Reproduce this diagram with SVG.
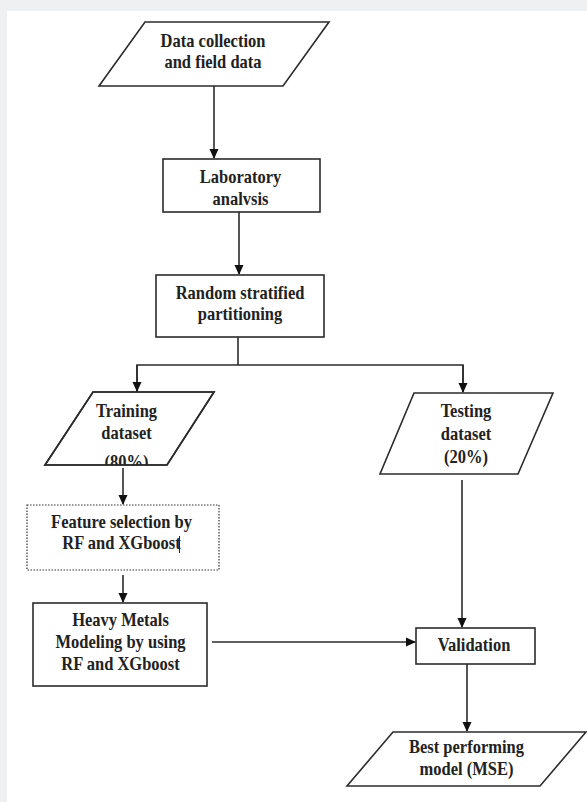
<svg xmlns="http://www.w3.org/2000/svg" width="587" height="802" viewBox="0 0 587 802">
<style>
.shape{fill:#fff;stroke:#2b2b2b;stroke-width:1.6}
.dot{fill:#fff;stroke:#333;stroke-width:1.2;stroke-dasharray:1.5 1.5}
.t{font-family:"Liberation Serif","Times New Roman",serif;font-weight:bold;font-size:16.5px;fill:#222;text-anchor:middle}
.c{fill:none;stroke:#2b2b2b;stroke-width:1.6}
</style>
<defs>
<marker id="ah" markerWidth="10" markerHeight="10" refX="9" refY="5" orient="auto" markerUnits="userSpaceOnUse">
<path d="M0,0.5 L10,5 L0,9.5 Z" fill="#111"/>
</marker>
<clipPath id="clipTrain"><polygon points="93,392 214,392 167,465 45,465"/></clipPath>
</defs>
<rect x="0" y="0" width="587" height="802" fill="#eef0f2"/>
<rect x="7" y="11" width="580" height="791" fill="#fff"/>

<g id="connectors">
<line class="c" x1="214" y1="86" x2="214" y2="158" marker-end="url(#ah)"/>
<line class="c" x1="239" y1="212" x2="239" y2="274" marker-end="url(#ah)"/>
<line class="c" x1="238" y1="337" x2="238" y2="365"/>
<polyline class="c" points="137,392 137,365 463,365 463,392"/>
<line class="c" x1="137" y1="365" x2="137" y2="391" marker-end="url(#ah)"/>
<line class="c" x1="463" y1="365" x2="463" y2="392" marker-end="url(#ah)"/>
<line class="c" x1="123" y1="468" x2="123" y2="504" marker-end="url(#ah)"/>
<line class="c" x1="123" y1="575" x2="123" y2="602" marker-end="url(#ah)"/>
<line class="c" x1="212" y1="642" x2="415" y2="642" marker-end="url(#ah)"/>
<line class="c" x1="462" y1="480" x2="462" y2="627" marker-end="url(#ah)"/>
<line class="c" x1="467" y1="664" x2="467" y2="731" marker-end="url(#ah)"/>
</g>

<g id="data-collection">
<polygon class="shape" points="145,22 329,22 283,86 99,86"/>
<text class="t" transform="translate(213,47) scale(1,1.2)">Data collection</text>
<text class="t" transform="translate(213,68) scale(1,1.2)">and field data</text>
</g>

<g id="laboratory">
<rect class="shape" x="163" y="159" width="157" height="53"/>
<text class="t" transform="translate(240.5,183) scale(1,1.2)">Laboratory</text>
<text class="t" transform="translate(240.5,205) scale(1,1.2)">analvsis</text>
</g>

<g id="partitioning">
<rect class="shape" x="156" y="275" width="168" height="62"/>
<text class="t" transform="translate(240,299) scale(1,1.2)">Random stratified</text>
<text class="t" transform="translate(240,320) scale(1,1.2)">partitioning</text>
</g>

<g id="training">
<polygon class="shape" points="93,392 214,392 167,465 45,465"/>
<g clip-path="url(#clipTrain)">
<text class="t" transform="translate(126.5,417) scale(1,1.2)">Training</text>
<text class="t" transform="translate(126.5,439) scale(1,1.2)">dataset</text>
<text class="t" transform="translate(126.5,467.5) scale(1,1.2)">(80%)</text>
</g>
<polygon points="93,392 214,392 167,465 45,465" fill="none" stroke="#2b2b2b" stroke-width="1.6"/>
</g>

<g id="testing">
<polygon class="shape" points="414,393 553,393 518,474 380,474"/>
<text class="t" transform="translate(466,417) scale(1,1.2)">Testing</text>
<text class="t" transform="translate(466,440) scale(1,1.2)">dataset</text>
<text class="t" transform="translate(466,463) scale(1,1.2)">(20%)</text>
</g>

<g id="feature-selection">
<rect class="dot" x="27" y="505" width="192" height="65"/>
<text class="t" transform="translate(121.5,528) scale(1,1.2)">Feature selection by</text>
<text class="t" transform="translate(121.5,549) scale(1,1.2)">RF and XGboost</text>
<line x1="179.5" y1="536" x2="179.5" y2="553" stroke="#222" stroke-width="1"/>
</g>

<g id="modeling">
<rect class="shape" x="33" y="603" width="174" height="83"/>
<text class="t" transform="translate(120.5,626) scale(1,1.2)">Heavy Metals</text>
<text class="t" transform="translate(120.5,648) scale(1,1.2)">Modeling by using</text>
<text class="t" transform="translate(120.5,670) scale(1,1.2)">RF and XGboost</text>
</g>

<g id="validation">
<rect class="shape" x="416" y="628" width="119" height="36"/>
<text class="t" transform="translate(474,651) scale(1,1.2)">Validation</text>
</g>

<g id="best-model">
<polygon class="shape" points="393,732 586,732 540,786 347,786"/>
<text class="t" transform="translate(466.5,753) scale(1,1.2)">Best performing</text>
<text class="t" transform="translate(466.5,775) scale(1,1.2)">model (MSE)</text>
</g>
</svg>
